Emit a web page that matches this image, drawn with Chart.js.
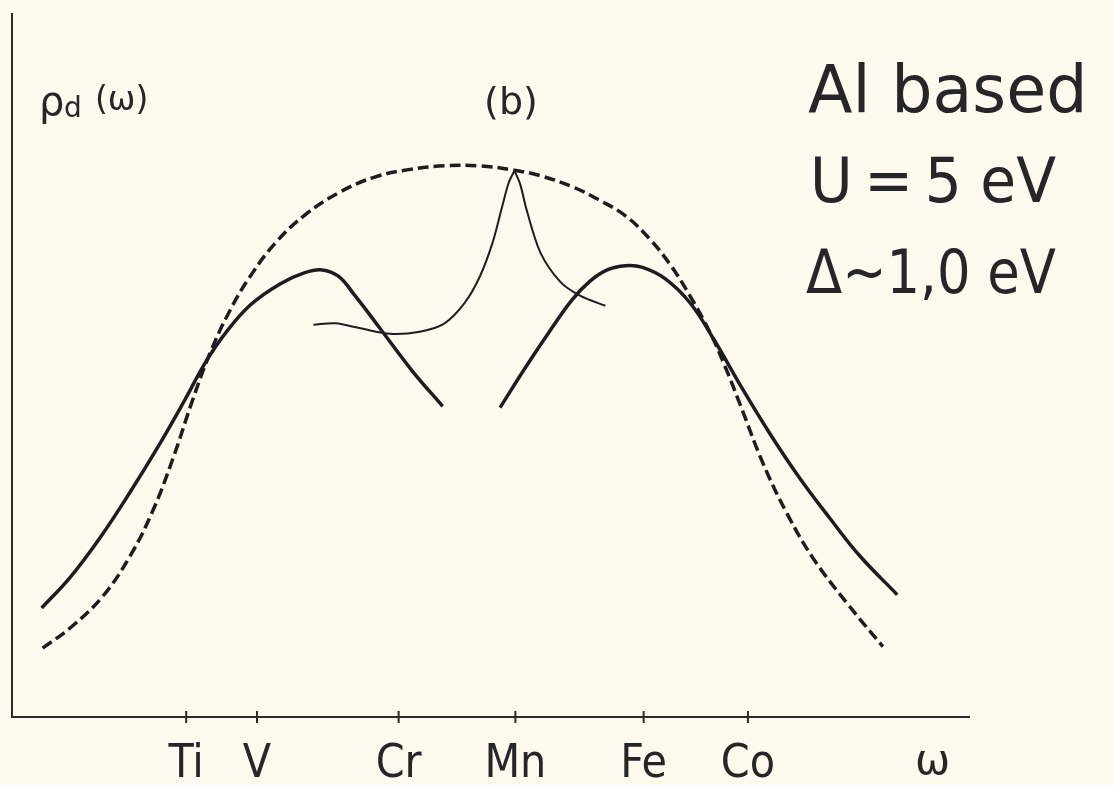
<!DOCTYPE html>
<html>
<head>
<meta charset="utf-8">
<script src="https://cdn.jsdelivr.net/npm/chart.js@4/dist/chart.umd.min.js"></script>
<style>
    html, body { margin: 0; padding: 0; background: #fcfaef; }
    #wrap { width: 1114px; height: 785px; }
</style>
</head>
<body>
<div id="wrap"><canvas id="dosChart"></canvas></div>
<script>
/* ===============================
   rho_d(omega) for Al based alloys
   =============================== */

/* ---------- Data (arbitrary units) ---------- */
const tickPos   = [1.82, 2.56, 4.04, 5.26, 6.60, 7.69];
const tickNames = ["Ti", "V", "Cr", "Mn", "Fe", "Co"];
const omegaPos  = 9.62;

// dashed envelope
const bareX = [0.32, 0.61, 0.95, 1.23, 1.47, 1.68, 1.89, 2.07, 2.28, 2.49, 2.75, 3.06, 3.43, 3.79, 4.16, 4.52, 4.89, 5.24, 5.52, 5.86, 6.14, 6.41, 6.67, 6.88, 7.08, 7.29, 7.45, 7.61, 7.85, 8.10, 8.37, 8.73, 9.10];
const bareY = [0.98, 1.27, 1.72, 2.28, 2.93, 3.67, 4.52, 5.18, 5.79, 6.27, 6.74, 7.14, 7.47, 7.68, 7.79, 7.84, 7.84, 7.78, 7.70, 7.54, 7.35, 7.13, 6.79, 6.43, 6.00, 5.48, 4.99, 4.44, 3.60, 2.89, 2.26, 1.61, 1.00];

// thick solid, left branch
const leftX = [0.31, 0.61, 0.92, 1.23, 1.55, 1.81, 2.02, 2.23, 2.49, 2.80, 3.06, 3.24, 3.41, 3.58, 3.85, 4.19, 4.50];
const leftY = [1.55, 1.99, 2.55, 3.19, 3.90, 4.52, 5.04, 5.46, 5.86, 6.16, 6.32, 6.36, 6.27, 6.00, 5.52, 4.91, 4.42];

// thick solid, right branch
const rightX = [5.10, 5.36, 5.62, 5.85, 6.04, 6.22, 6.41, 6.58, 6.82, 7.08, 7.33, 7.61, 7.92, 8.23, 8.55, 8.86, 9.25];
const rightY = [4.40, 4.96, 5.49, 5.93, 6.20, 6.36, 6.42, 6.40, 6.24, 5.90, 5.38, 4.72, 4.03, 3.40, 2.82, 2.29, 1.74];

// thin curve with the Mn cusp (split at the cusp)
const thinLX = [3.15, 3.38, 3.64, 3.95, 4.26, 4.52, 4.73, 4.89, 5.02, 5.12, 5.19, 5.25];
const thinLY = [5.58, 5.60, 5.53, 5.45, 5.48, 5.60, 5.89, 6.27, 6.74, 7.25, 7.60, 7.77];
const thinRX = [5.25, 5.31, 5.38, 5.52, 5.73, 5.94, 6.20];
const thinRY = [7.77, 7.58, 7.20, 6.61, 6.19, 5.99, 5.85];


/* ---------- helpers ---------- */
const ink = "#1d1d1d";
const paper = "#fcfaef";

function pts(xs, ys) {
    return xs.map((x, i) => ({ x: x, y: ys[i] }));
}

function curve(xs, ys, width, dash, tension) {
    return {
        data: pts(xs, ys),
        borderColor: ink,
        borderWidth: width,
        borderDash: dash || [],
        borderCapStyle: "butt",
        borderJoinStyle: "round",
        pointRadius: 0,
        fill: false,
        tension: tension === undefined ? 0.4 : tension
    };
}

/* ---------- paper + lettering ---------- */
const paperPlugin = {
    id: "paper",
    beforeDraw(chart) {
        const c = chart.ctx;
        c.save();
        c.fillStyle = paper;
        c.fillRect(0, 0, chart.width, chart.height);
        c.restore();
    }
};

const letteringPlugin = {
    id: "lettering",
    afterDraw(chart) {
        const c = chart.ctx;
        c.save();
        c.fillStyle = "#262626";
        c.textBaseline = "alphabetic";
        c.textAlign = "left";

        // rho_d(omega)
        c.font = "40px 'DejaVu Sans'";
        c.fillText("ρ", 39, 115);
        c.font = "28px 'DejaVu Sans'";
        c.fillText("d", 64, 117);
        c.font = "33px 'DejaVu Sans'";
        c.fillText("(ω)", 95, 110);

        // panel label
        c.textAlign = "center";
        c.font = "38px 'DejaVu Sans'";
        c.fillText("(b)", 511, 114);

        // parameters
        c.textAlign = "left";
        c.font = "65px 'DejaVu Sans'";
        c.fillText("Al based", 808, 112, 294);
        c.font = "62px 'DejaVu Sans'";
        c.fillText("U\u2009=\u20095 eV", 810, 202, 246);
        c.font = "60px 'DejaVu Sans'";
        c.fillText("Δ~1,0 eV", 806, 293, 250);
        c.restore();
    }
};

/* ---------- Chart ---------- */
const ctx = document.getElementById("dosChart");

new Chart(ctx, {
    type: "line",
    data: {
        datasets: [
            curve(bareX, bareY, 3.5, [11, 5]),
            curve(leftX, leftY, 3.5),
            curve(rightX, rightY, 3.5),
            curve(thinLX, thinLY, 2, null, 0.3),
            curve(thinRX, thinRY, 2, null, 0.3),
            {
                // tick marks crossing the omega axis
                data: tickPos.map(v => ({ x: v, y: 0 })),
                showLine: false,
                pointStyle: "line",
                pointRotation: 90,
                pointRadius: 6,
                pointBorderWidth: 2,
                pointBorderColor: "#2b2b2b",
                clip: false
            }
        ]
    },
    options: {
        responsive: true,
        maintainAspectRatio: false,
        animation: false,
        layout: { padding: { left: 12, right: 145, top: 14, bottom: 0 } },
        plugins: {
            legend: { display: false },
            tooltip: { enabled: false }
        },
        scales: {
            x: {
                type: "linear",
                min: 0,
                max: 10,
                afterBuildTicks: s => {
                    s.ticks = tickPos.concat([omegaPos]).map(v => ({ value: v }));
                },
                afterFit: s => { s.height = 68; },
                grid: { display: false, drawTicks: false },
                border: { display: true, color: "#2b2b2b", width: 2 },
                ticks: {
                    autoSkip: false,
                    maxRotation: 0,
                    padding: 25,
                    color: "#262626",
                    font: c => (c.tick && c.tick.value === omegaPos)
                        ? { family: "'DejaVu Sans'", size: 42, lineHeight: 1 }
                        : { family: "'Liberation Sans Narrow', 'DejaVu Sans Condensed', sans-serif", size: 46, lineHeight: 1 },
                    callback: v => {
                        const i = tickPos.indexOf(v);
                        return i >= 0 ? tickNames[i] : "ω";
                    }
                }
            },
            y: {
                type: "linear",
                min: 0,
                max: 10,
                afterFit: s => { s.width = 0; },
                grid: { display: false, drawTicks: false },
                border: { display: true, color: "#2b2b2b", width: 2 },
                ticks: { display: false }
            }
        }
    },
    plugins: [paperPlugin, letteringPlugin]
});
</script>
</body>
</html>
